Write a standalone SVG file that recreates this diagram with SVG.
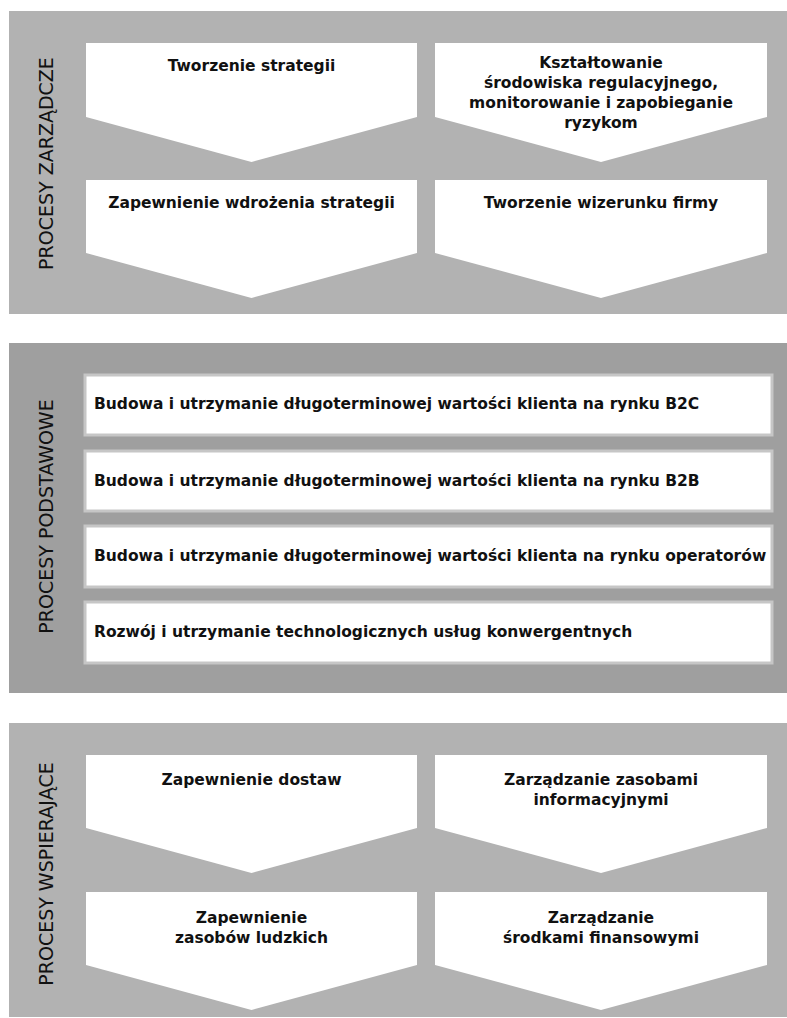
<svg xmlns="http://www.w3.org/2000/svg" width="787" height="1018" viewBox="0 0 787 1018">
  <style>
    .panel-light { fill: #b2b2b2; }
    .panel-dark { fill: #9f9f9f; }
    .chevron { fill: #ffffff; }
    .bar { fill: #ffffff; stroke: #c6c6c6; stroke-width: 3; }
    .label { font-family: "DejaVu Sans", "Liberation Sans", sans-serif; font-size: 19px; fill: #111111; text-anchor: middle; }
    .txt { font-family: "DejaVu Sans", "Liberation Sans", sans-serif; font-size: 15.5px; font-weight: bold; fill: #111111; }
    .c { text-anchor: middle; }
  </style>
  <rect width="787" height="1018" fill="#ffffff"/>

  <!-- management processes -->
  <g id="panel-zarzadcze">
    <rect class="panel-light" x="9" y="11" width="778" height="303"/>
    <text class="label" transform="translate(53,163.5) rotate(-90)">PROCESY ZARZĄDCZE</text>
  </g>
  <g id="node-tworzenie-strategii">
    <polygon class="chevron" points="86,43 417,43 417,117 251.5,162 86,117"/>
    <text class="txt c" x="251.5" y="71">Tworzenie strategii</text>
  </g>
  <g id="node-ksztaltowanie">
    <polygon class="chevron" points="435,43 767,43 767,117 601,162 435,117"/>
    <text class="txt c" x="601" y="68">Kształtowanie</text>
    <text class="txt c" x="601" y="88">środowiska regulacyjnego,</text>
    <text class="txt c" x="601" y="108">monitorowanie i zapobieganie</text>
    <text class="txt c" x="601" y="128">ryzykom</text>
  </g>
  <g id="node-wdrozenie-strategii">
    <polygon class="chevron" points="86,180 417,180 417,253 251.5,298 86,253"/>
    <text class="txt c" x="251.5" y="208">Zapewnienie wdrożenia strategii</text>
  </g>
  <g id="node-wizerunek">
    <polygon class="chevron" points="435,180 767,180 767,253 601,298 435,253"/>
    <text class="txt c" x="601" y="208">Tworzenie wizerunku firmy</text>
  </g>

  <!-- core processes -->
  <g id="panel-podstawowe">
    <rect class="panel-dark" x="9" y="343" width="778" height="350"/>
    <text class="label" transform="translate(53,516.5) rotate(-90)">PROCESY PODSTAWOWE</text>
  </g>
  <g id="node-b2c">
    <rect class="bar" x="85" y="375" width="687" height="60"/>
    <text class="txt" x="94" y="409">Budowa i utrzymanie długoterminowej wartości klienta na rynku B2C</text>
  </g>
  <g id="node-b2b">
    <rect class="bar" x="85" y="451" width="687" height="60"/>
    <text class="txt" x="94" y="485.5">Budowa i utrzymanie długoterminowej wartości klienta na rynku B2B</text>
  </g>
  <g id="node-operatorzy">
    <rect class="bar" x="85" y="526" width="687" height="61"/>
    <text class="txt" x="94" y="561">Budowa i utrzymanie długoterminowej wartości klienta na rynku operatorów</text>
  </g>
  <g id="node-uslugi">
    <rect class="bar" x="85" y="602" width="687" height="61"/>
    <text class="txt" x="94" y="637">Rozwój i utrzymanie technologicznych usług konwergentnych</text>
  </g>

  <!-- support processes -->
  <g id="panel-wspierajace">
    <rect class="panel-light" x="9" y="723" width="778" height="294"/>
    <text class="label" transform="translate(53,874) rotate(-90)">PROCESY WSPIERAJĄCE</text>
  </g>
  <g id="node-dostawy">
    <polygon class="chevron" points="86,755 417,755 417,828 251.5,873 86,828"/>
    <text class="txt c" x="251.5" y="784.5">Zapewnienie dostaw</text>
  </g>
  <g id="node-zasoby-informacyjne">
    <polygon class="chevron" points="435,755 767,755 767,828 601,873 435,828"/>
    <text class="txt c" x="601" y="785">Zarządzanie zasobami</text>
    <text class="txt c" x="601" y="805">informacyjnymi</text>
  </g>
  <g id="node-zasoby-ludzkie">
    <polygon class="chevron" points="86,892 417,892 417,965 251.5,1010 86,965"/>
    <text class="txt c" x="251.5" y="923">Zapewnienie</text>
    <text class="txt c" x="251.5" y="943">zasobów ludzkich</text>
  </g>
  <g id="node-finanse">
    <polygon class="chevron" points="435,892 767,892 767,965 601,1010 435,965"/>
    <text class="txt c" x="601" y="923">Zarządzanie</text>
    <text class="txt c" x="601" y="943">środkami finansowymi</text>
  </g>

  <!-- the process map has no connectors between nodes -->
  <g id="connectors"/>
</svg>
